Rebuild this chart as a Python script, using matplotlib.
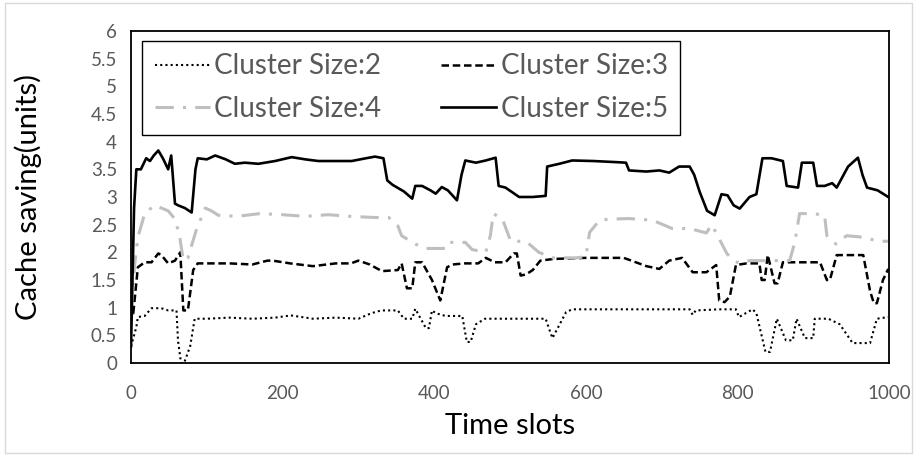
import matplotlib
matplotlib.use("Agg")
import matplotlib.pyplot as plt
from matplotlib.ticker import MultipleLocator, FuncFormatter
from matplotlib.patches import Rectangle

# values
x2 = [0, 7, 9, 18, 27, 40, 49, 60, 62, 66, 70, 78, 84, 100, 130, 160, 190, 211, 240, 270,
      300, 317, 330, 343, 352, 360, 371, 375, 389, 393, 397, 402, 415, 437, 443, 448, 455, 467, 500, 547,
      552, 556, 574, 582, 620, 660, 697, 737, 741, 745, 776, 798, 802, 820, 825, 837, 843, 852, 864, 873,
      878, 889, 900, 902, 920, 935, 952, 975, 984, 999]
y2 = [0.3, 0.65, 0.83, 0.85, 0.99, 0.99, 0.95, 0.95, 0.4, 0.0, 0.0, 0.3, 0.8, 0.8, 0.82, 0.8, 0.82, 0.86, 0.8, 0.82,
      0.8, 0.9, 0.95, 0.95, 0.95, 0.8, 0.8, 0.98, 0.63, 0.63, 0.95, 0.9, 0.85, 0.85, 0.38, 0.38, 0.7, 0.8, 0.8, 0.8,
      0.6, 0.45, 0.92, 0.97, 0.97, 0.97, 0.97, 0.97, 0.87, 0.95, 0.97, 0.97, 0.83, 0.97, 0.9, 0.2, 0.2, 0.8, 0.41, 0.41,
      0.8, 0.45, 0.45, 0.8, 0.8, 0.7, 0.36, 0.36, 0.8, 0.83]

x3 = [0, 3, 9, 18, 27, 36, 40, 49, 58, 65, 69, 75, 82, 88, 103, 130, 160, 180, 187, 210,
      240, 270, 290, 300, 315, 331, 352, 357, 364, 371, 375, 384, 397, 408, 417, 424, 440, 458, 468, 480,
      494, 505, 509, 514, 521, 530, 540, 557, 600, 650, 680, 697, 710, 727, 741, 759, 772, 776, 783, 790,
      798, 812, 829, 832, 836, 840, 849, 853, 860, 880, 909, 918, 922, 931, 950, 966, 975, 980, 984, 992, 999]
y3 = [1.1, 0.9, 1.73, 1.82, 1.82, 1.98, 1.95, 1.8, 1.85, 2.0, 0.95, 0.95, 1.68, 1.8, 1.8, 1.8, 1.78, 1.85, 1.85, 1.8,
      1.75, 1.8, 1.8, 1.85, 1.78, 1.66, 1.68, 1.8, 1.35, 1.35, 1.82, 1.82, 1.5, 1.13, 1.73, 1.78, 1.8, 1.8, 1.9, 1.82,
      1.82, 1.98, 1.98, 1.58, 1.6, 1.68, 1.85, 1.88, 1.9, 1.9, 1.75, 1.7, 1.85, 1.9, 1.64, 1.64, 1.77, 1.13, 1.1, 1.2,
      1.77, 1.8, 1.8, 1.5, 1.5, 1.95, 1.44, 1.44, 1.82, 1.82, 1.82, 1.5, 1.5, 1.95, 1.95, 1.95, 1.3, 1.08, 1.08, 1.5, 1.7]

x4 = [0, 5, 9, 18, 31, 49, 58, 64, 69, 75, 86, 98, 106, 115, 140, 170, 200, 230, 260, 290,
      320, 340, 352, 357, 375, 389, 415, 419, 441, 450, 468, 474, 478, 490, 501, 521, 538, 556, 587, 600,
      605, 618, 631, 657, 688, 714, 737, 759, 766, 772, 786, 795, 803, 816, 825, 856, 869, 876, 882, 900,
      915, 918, 930, 944, 961, 988, 999]
y4 = [0.9, 1.8, 2.27, 2.7, 2.85, 2.75, 2.6, 2.3, 1.85, 1.9, 2.4, 2.8, 2.75, 2.67, 2.65, 2.7, 2.68, 2.65, 2.68, 2.65,
      2.63, 2.63, 2.48, 2.3, 2.15, 2.07, 2.07, 2.18, 2.18, 2.05, 2.0, 2.3, 2.7, 2.6, 2.2, 2.2, 2.0, 1.9, 1.9, 1.92,
      2.36, 2.58, 2.6, 2.61, 2.58, 2.43, 2.43, 2.35, 2.5, 2.35, 1.98, 1.85, 1.8, 1.85, 1.85, 1.85, 1.85, 2.2, 2.7, 2.7,
      2.67, 2.3, 2.15, 2.3, 2.28, 2.2, 2.2]

x5 = [0, 4, 7, 13, 20, 25, 30, 36, 42, 49, 53, 58, 62, 71, 80, 85, 88, 100, 111, 125,
      137, 150, 168, 190, 212, 230, 247, 270, 291, 310, 322, 333, 338, 345, 360, 371, 375, 384, 395, 402,
      410, 418, 430, 436, 441, 455, 468, 481, 485, 494, 512, 530, 547, 549, 565, 582, 610, 640, 653, 657,
      680, 697, 710, 723, 737, 743, 750, 760, 770, 779, 787, 795, 803, 816, 825, 833, 845, 860, 865, 880,
      885, 900, 905, 915, 925, 931, 946, 959, 965, 971, 985, 999]
y5 = [0.3, 2.8, 3.5, 3.5, 3.7, 3.65, 3.75, 3.84, 3.7, 3.5, 3.75, 2.88, 2.85, 2.8, 2.72, 3.5, 3.7, 3.68, 3.75, 3.68,
      3.6, 3.62, 3.6, 3.65, 3.72, 3.68, 3.65, 3.65, 3.65, 3.7, 3.73, 3.7, 3.3, 3.22, 3.1, 2.97, 3.2, 3.2, 3.12, 3.06,
      3.18, 3.12, 2.94, 3.4, 3.66, 3.62, 3.66, 3.71, 3.2, 3.17, 3.0, 3.0, 3.02, 3.55, 3.6, 3.66, 3.65, 3.63, 3.62, 3.48,
      3.46, 3.48, 3.44, 3.55, 3.55, 3.4, 3.1, 2.75, 2.67, 3.05, 3.03, 2.85, 2.79, 3.0, 3.05, 3.7, 3.7, 3.65, 3.2, 3.17,
      3.62, 3.62, 3.2, 3.2, 3.25, 3.17, 3.55, 3.71, 3.4, 3.17, 3.12, 3.0]

labels = ['Cluster Size:2', 'Cluster Size:3', 'Cluster Size:4', 'Cluster Size:5']

plt.rcParams['font.family'] = ['Lato', 'DejaVu Sans']

fig = plt.figure(figsize=(9.15, 4.55), dpi=100)
ax = fig.add_axes([0.1432, 0.2022, 0.8284, 0.7297])

# light gray outer chart border
fig.patches.append(Rectangle((0.005, 0.004), 0.992, 0.99, transform=fig.transFigure,
                             fill=False, edgecolor='#d9d9d9', linewidth=1.0))

l2, = ax.plot(x2, y2, color='black', linewidth=1.5, linestyle=(0, (1, 1.5)), label=labels[0])
l3, = ax.plot(x3, y3, color='black', linewidth=1.8, linestyle=(0, (3, 1.5)), label=labels[1])
l4, = ax.plot(x4, y4, color='#bfbfbf', linewidth=2.2, linestyle=(0, (6, 3, 1, 3)), label=labels[2])
l5, = ax.plot(x5, y5, color='black', linewidth=1.9, linestyle='-', label=labels[3])

ax.set_xlim(0, 1000)
ax.set_ylim(0, 6)
ax.xaxis.set_major_locator(MultipleLocator(200))
ax.yaxis.set_major_locator(MultipleLocator(0.5))
ax.yaxis.set_major_formatter(FuncFormatter(lambda v, p: ('%g' % v)))
ax.tick_params(axis='both', length=0, labelsize=13.5, labelcolor='#595959')
ax.tick_params(axis='x', pad=16)
ax.tick_params(axis='y', pad=10)
for s in ax.spines.values():
    s.set_linewidth(1.3)
    s.set_color('black')

ax.set_xlabel('Time slots', fontsize=21)
ax.set_ylabel('Cache saving(units)', fontsize=21)
ax.xaxis.set_label_coords(0.5, -0.15)
ax.yaxis.set_label_coords(-0.117, 0.5)

# row-wise order: 2,3 on top, 4,5 below
leg = ax.legend([l2, l4, l3, l5], [labels[0], labels[2], labels[1], labels[3]],
                ncol=2, loc='upper left', bbox_to_anchor=(0.0145, 0.97 - 0.27, 0.71, 0.27),
                mode='expand', fontsize=20, frameon=True, fancybox=False, framealpha=1,
                edgecolor='black', handlelength=2.0, handletextpad=0.15, borderpad=0.45,
                labelspacing=0.6, borderaxespad=0)
leg.get_frame().set_linewidth(1.0)
for t in leg.get_texts():
    t.set_color('#595959')

fig.savefig('out.png', dpi=100)
